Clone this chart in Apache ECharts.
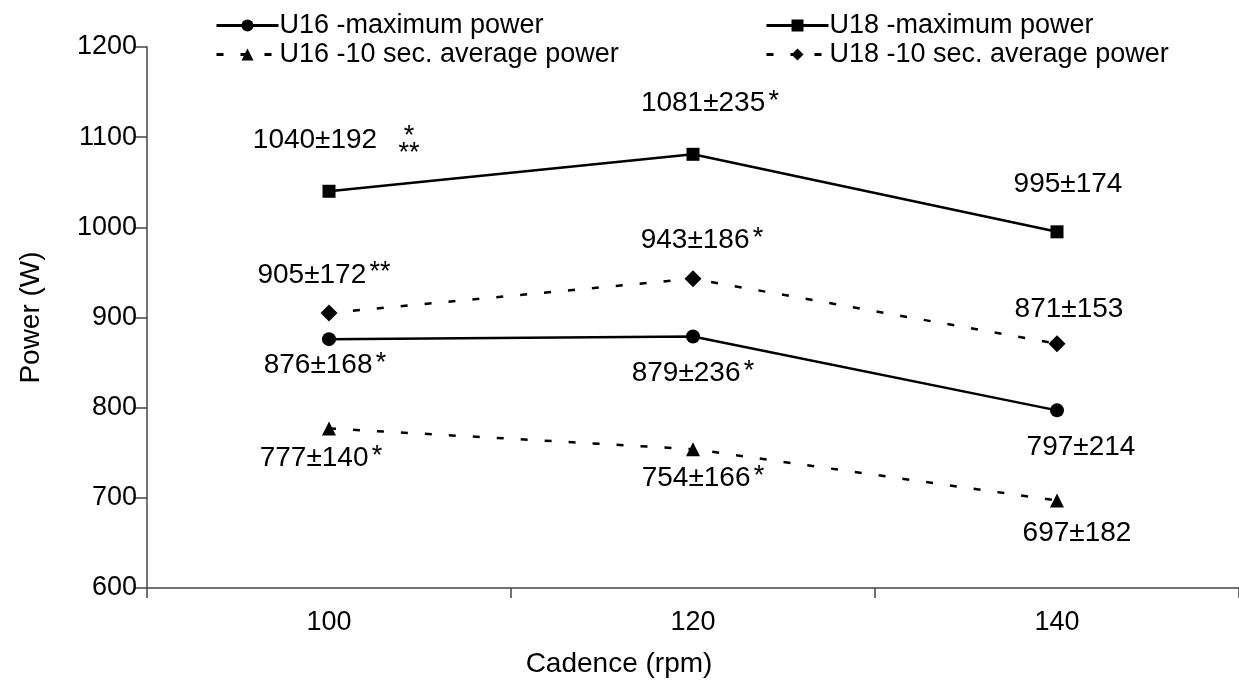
<!DOCTYPE html>
<html><head><meta charset="utf-8">
<script src="https://cdn.jsdelivr.net/npm/echarts@6/dist/echarts.min.js"></script>
<style>html,body{margin:0;padding:0;background:#fff}#c{width:1239px;height:686px}</style>
</head><body><div id="c"></div>
<script>
var categories = ['100', '120', '140'];
var seriesNames = ['U16 -maximum power', 'U16 -10 sec. average power', 'U18 -maximum power', 'U18 -10 sec. average power'];
var u16Max = [876, 879, 797];
var u16Avg = [777, 754, 697];
var u18Max = [1040, 1081, 995];
var u18Avg = [905, 943, 871];
var u16MaxSD = [168, 236, 214];
var u16AvgSD = [140, 166, 182];
var u18MaxSD = [192, 235, 174];
var u18AvgSD = [172, 186, 153];
var u16MaxStars = ['*', '*', ''];
var u16AvgStars = ['*', '*', ''];
var u18MaxStars = ['', '*', ''];
var u18AvgStars = ['**', '*', ''];
var u18MaxStackStars = ['*\n**', '', ''];
var yTicks = {min: 600, max: 1200, interval: 100};

// label offsets (layout only)
var offU16Max = [[-4, 26], [0, 37], [24, 37]];
var offU16Avg = [[-8, 30], [10, 29], [20, 33]];
var offU18Max = [[-14, -51], [17, -51], [11, -48]];
var offU18Avg = [[-5, -38], [9, -38], [12, -34]];
var offU18MaxStack = [[80, -46]];

var FONT = 'Liberation Sans, Arial, sans-serif';
function makeData(vals, sds, stars, offs) {
  return vals.map(function (v, i) {
    var txt = '{v|' + v + '±' + sds[i] + '}' + (stars[i] ? ' {s|' + stars[i] + '}' : '');
    return {value: v, label: {offset: offs[i], formatter: txt}};
  });
}
var rich = {
  v: {fontSize: 28, fontFamily: FONT, color: '#000'},
  s: {fontSize: 27, fontFamily: FONT, color: '#000', verticalAlign: 'top', padding: [0, 0, 4, 0]}
};
function lineSeries(name, vals, sds, stars, offs, symbol, size, dashed) {
  return {
    name: name, type: 'line', data: makeData(vals, sds, stars, offs),
    symbol: symbol, symbolSize: size,
    itemStyle: {color: '#000'},
    lineStyle: {color: '#000', width: 2.5, type: dashed ? [7, 17] : 'solid'},
    label: {show: true, position: 'inside', rich: rich},
    emphasis: {disabled: true}, z: 3
  };
}
var legendText = {fontSize: 27, fontFamily: FONT, color: '#000', padding: [0, 0, 0, -4]};
var legendLine = {width: 3};
var option = {
  animation: false,
  backgroundColor: '#fff',
  legend: [{
    left: 210, top: 7, orient: 'vertical', itemGap: 2, itemWidth: 62, itemHeight: 15,
    data: [seriesNames[0], seriesNames[1]], textStyle: legendText, lineStyle: legendLine
  }, {
    left: 760, top: 7, orient: 'vertical', itemGap: 2, itemWidth: 62, itemHeight: 15,
    data: [seriesNames[2], seriesNames[3]], textStyle: legendText, lineStyle: legendLine
  }],
  grid: {left: 147, right: -6, top: 47, bottom: 98, containLabel: false},
  xAxis: {
    type: 'category', data: categories, boundaryGap: true,
    name: 'Cadence (rpm)', nameLocation: 'middle', nameGap: 62,
    nameTextStyle: {fontSize: 28, fontFamily: FONT, color: '#000', padding: [0, 148, 0, 0]},
    axisLine: {lineStyle: {color: '#444', width: 1.5}},
    axisTick: {show: true, length: 10, interval: 0, lineStyle: {color: '#444', width: 1.5}},
    axisLabel: {fontSize: 27, fontFamily: FONT, color: '#000', margin: 21},
    splitLine: {show: false}
  },
  yAxis: {
    type: 'value', min: yTicks.min, max: yTicks.max, interval: yTicks.interval,
    name: 'Power (W)', nameLocation: 'middle', nameGap: 102, nameRotate: 90,
    nameTextStyle: {fontSize: 28, fontFamily: FONT, color: '#000'},
    axisLine: {show: true, lineStyle: {color: '#444', width: 1.5}},
    axisTick: {show: true, length: 12, lineStyle: {color: '#444', width: 1.5}},
    axisLabel: {fontSize: 27, fontFamily: FONT, color: '#000', margin: 10,
      formatter: function (v) { return String(v); }},
    splitLine: {show: false}
  },
  series: [
    lineSeries(seriesNames[0], u16Max, u16MaxSD, u16MaxStars, offU16Max, 'circle', 14, false),
    lineSeries(seriesNames[1], u16Avg, u16AvgSD, u16AvgStars, offU16Avg, 'triangle', 14, true),
    lineSeries(seriesNames[2], u18Max, u18MaxSD, u18MaxStars, offU18Max, 'rect', 13, false),
    lineSeries(seriesNames[3], u18Avg, u18AvgSD, u18AvgStars, offU18Avg, 'diamond', 17, true),
    {
      name: 'stars', type: 'line', silent: true, symbol: 'circle', symbolSize: 1,
      itemStyle: {color: 'rgba(0,0,0,0)'},
      lineStyle: {opacity: 0}, z: 4,
      data: u18Max.map(function (v, i) {
        return {value: v, label: {show: !!u18MaxStackStars[i], offset: offU18MaxStack[i] || [0, 0],
          formatter: u18MaxStackStars[i]}};
      }),
      label: {show: true, position: 'inside', fontSize: 27, lineHeight: 17, fontFamily: FONT, color: '#000'},
      emphasis: {disabled: true}
    }
  ]
};
var chart = echarts.init(document.getElementById('c'), null, {renderer: 'canvas'});
chart.setOption(option);
</script></body></html>
